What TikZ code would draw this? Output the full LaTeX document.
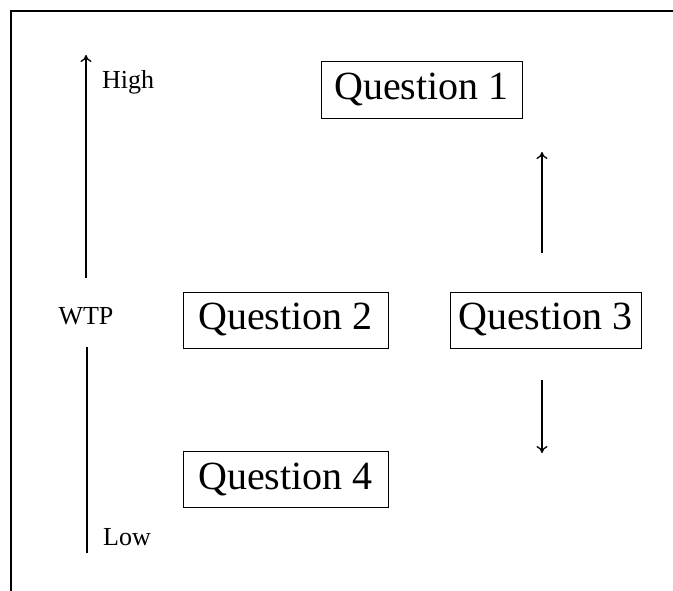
\documentclass[tikz,border=0pt]{standalone}
\usepackage{fontspec}
\setmainfont{Liberation Serif}
\usetikzlibrary{arrows.meta}
\begin{document}
\begin{tikzpicture}[x=1pt,y=-1pt,
  qbox/.style={draw, line width=0.9pt, inner sep=0pt, font=\fontsize{40}{44}\selectfont},
  lbl/.style={inner sep=0pt, font=\fontsize{26}{30}\selectfont},
  axis/.style={line width=1.3pt},
  arr/.style={line width=1.3pt, -{To[length=7pt,width=11pt]}}]
\useasboundingbox (0,0) rectangle (673,591);
\draw[line width=1.3pt] (673,11) -- (11,11) -- (11,591);
\node[qbox, minimum width=201pt, minimum height=57pt] (q1) at (421.5,89.5) {Question 1};
\node[qbox, minimum width=205pt, minimum height=56pt] (q2) at (285.5,320) {Question 2};
\node[qbox, minimum width=191pt, minimum height=56pt] (q3) at (545.5,320) {Question 3};
\node[qbox, minimum width=205pt, minimum height=56pt] (q4) at (285.5,479) {Question 4};
\node[lbl] (wtp) at (86,316) {WTP};
\node[lbl, anchor=west] (high) at (102,82) {High};
\node[lbl, anchor=west] (low) at (103,537) {Low};
\coordinate (ltop) at (86,55);
\coordinate (lup) at (86,278);
\coordinate (llo) at (87,347);
\coordinate (lbot) at (87,553);
\draw[arr] (lup) -- (ltop);
\draw[axis] (llo) -- (lbot);
\coordinate (rup0) at (542,253);
\coordinate (rup1) at (542,152);
\coordinate (rdn0) at (542,380);
\coordinate (rdn1) at (542,453);
\draw[arr] (rup0) -- (rup1);
\draw[arr] (rdn0) -- (rdn1);
\end{tikzpicture}
\end{document}
